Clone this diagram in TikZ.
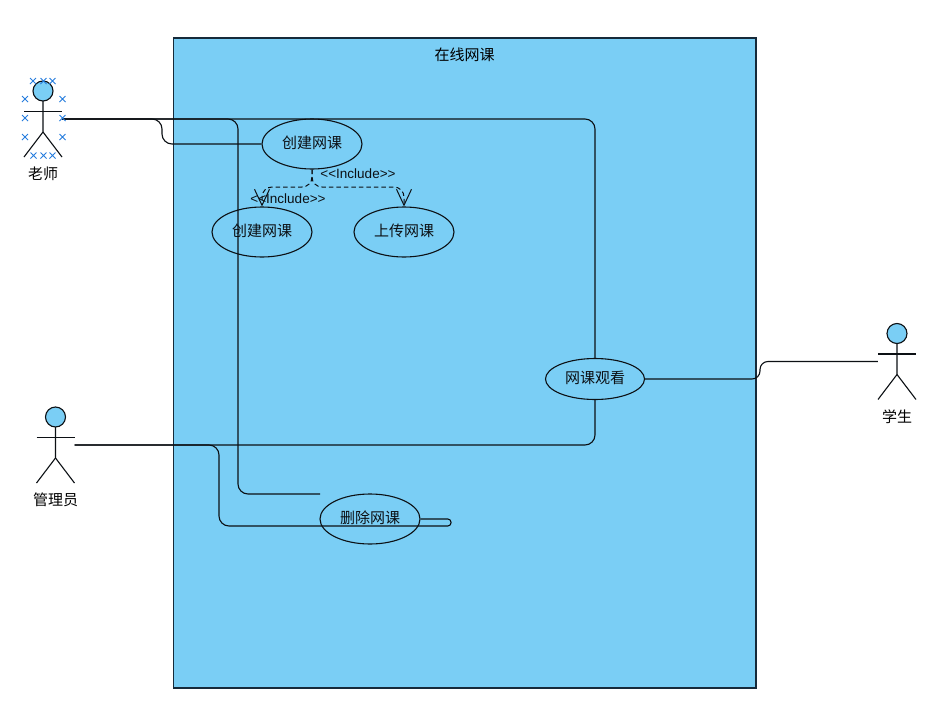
\documentclass[tikz,border=0pt]{standalone}
\usepackage{fontspec}
\usepackage{xcolor}
\usepackage{tikz}
\usetikzlibrary{calc,arrows.meta,positioning,shapes.geometric}
\setmainfont{Liberation Sans}
\newfontfamily\cjk{Noto Sans CJK SC}
\definecolor{umlBlue}{RGB}{122,206,245}
\definecolor{umlEdge}{RGB}{22,42,58}
\definecolor{umlLine}{RGB}{12,16,20}
\definecolor{umlMark}{RGB}{38,125,222}
\tikzset{
  usecase/.style={ellipse,draw=umlLine,line width=1.1pt,minimum width=100pt,minimum height=50pt,inner sep=0pt,font=\cjk\fontsize{15}{16}\selectfont,text=umlLine,text height=13.2pt,text depth=3.8pt},
  actorbox/.style={rectangle,minimum width=38pt,minimum height=76pt,inner sep=0pt},
  actorname/.style={font=\cjk\fontsize{15}{16}\selectfont,text=black},
  assoc/.style={umlLine,line width=1.1pt,rounded corners=10pt},
  incl/.style={umlLine,line width=1pt,dash pattern=on 4.5pt off 3pt,rounded corners=10pt,-{Straight Barb[length=16pt,width=15pt,line width=1pt]}},
  inclname/.style={font=\fontsize{13.5}{15}\selectfont,text=umlLine,inner sep=0pt},
  handle/.style={umlMark,line width=1pt}
}
\begin{document}
\begin{tikzpicture}[x=1pt,y=-1pt]
\useasboundingbox (0,0) rectangle (935,720);
\fill[white] (0,0) rectangle (935,720);
\draw[fill=umlBlue,draw=umlEdge,line width=1.2pt] (173.5,38) rectangle (756,688);
\node[actorname] (title) at (464.5,55) {在线网课};

\foreach \nm/\x/\y/\lb in {teacher/43/119/老师,admin/55.5/445/管理员,student/897/361.5/学生}
{
\node[actorbox] (\nm) at (\x,\y) {};
\node[actorname] (\nm-name) at (\x,\y+55) {\lb};
\begin{scope}[shift={(\x,\y)},umlLine,line width=1.1pt]
\draw[fill=umlBlue] (0,-28) circle (10pt);
\draw (-19,-7.5) -- (19,-7.5);
\draw (0,-18) -- (0,13) -- (-19,38);
\draw (0,13) -- (19,38);
\end{scope}
}

\node[usecase] (create) at (312,144) {创建网课};
\node[usecase] (createsub) at (262,232) {创建网课};
\node[usecase] (upload) at (404,232) {上传网课};
\node[usecase,minimum width=99pt,minimum height=41pt] (watch) at (595,379) {网课观看};
\node[usecase] (remove) at (370,519) {删除网课};

\coordinate (removeend) at (320,494);
\draw[assoc] (teacher.east) -- (238,119) -- (238,494) -- (removeend);
\draw[assoc] (teacher.east) -- (595,119) -- (watch.north);
\draw[assoc] (teacher.east) -- (162,119) -- (162,144) -- (create.west);
\draw[assoc] (admin.east) -- (595,445) -- (watch.south);
\draw[assoc] (admin.east) -- (219,445) -- (219,526) -- (300,526) [rounded corners=3.2pt] -- (451,526) -- (451,519) -- (remove.east);
\draw[assoc,rounded corners=8pt] (watch.east) -- (760,379) -- (760,361.5) -- (student.west);

\draw[incl] (create.south) -- (312,187) -- (262,187) -- (createsub.north);
\draw[incl] (create.south) -- (312,187) -- (404,187) -- (upload.north);
\node[inclname] (inclA) at (358,174) {<{}<Include>{}>};
\node[inclname] (inclB) at (288,199) {<{}<Include>{}>};

\foreach \x/\y in {33/81,43.5/81,52.5/81,25/99,25/118,25/137,62.5/99,62.5/118,62.5/137,33.5/155.5,43.5/155.5,52.5/155.5}
{
\draw[handle] (\x-3,\y-3) -- (\x+3,\y+3) (\x-3,\y+3) -- (\x+3,\y-3);
}
\end{tikzpicture}
\end{document}
